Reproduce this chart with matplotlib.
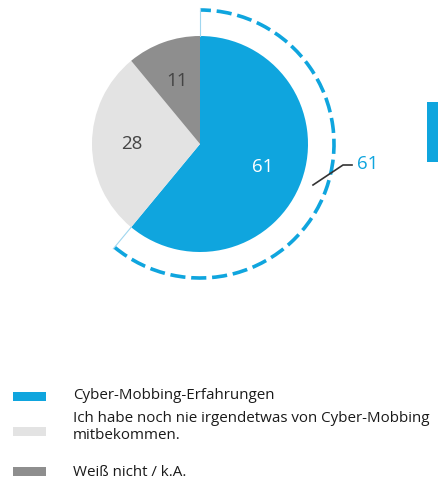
import numpy as np
import matplotlib
matplotlib.use("Agg")
import matplotlib.pyplot as plt
from matplotlib.patches import Arc, Rectangle

# data
categories = ["Cyber-Mobbing-Erfahrungen",
              "Ich habe noch nie irgendetwas von Cyber-Mobbing\nmitbekommen.",
              "Weiß nicht / k.A."]
values = [61, 28, 11]
colors = ["#0fa5de", "#e3e3e3", "#8e8e8e"]
label_colors = ["white", "#444444", "#444444"]
highlight_value = 61

W, H = 439, 482
fig = plt.figure(figsize=(W / 100, H / 100), dpi=100)
ax = fig.add_axes([0, 0, 1, 1])

cx, cy, r = 200, H - 144, 108
wedges, _ = ax.pie(values, colors=colors, startangle=90, counterclock=False,
                   center=(cx, cy), radius=r, frame=True)
ax.set_xlim(0, W)
ax.set_ylim(0, H)
ax.set_aspect("equal")
ax.axis("off")

# value labels inside the slices
label_r = [0.62, 0.63, 0.62]
for w, v, lc, lr in zip(wedges, values, label_colors, label_r):
    mid = np.deg2rad((w.theta1 + w.theta2) / 2)
    ax.text(cx + lr * r * np.cos(mid), cy + lr * r * np.sin(mid), str(v),
            ha="center", va="center", fontsize=13.5, color=lc,
            family="Open Sans")

# dashed highlight arc around the first slice
ra = 134
t1, t2 = wedges[0].theta1, wedges[0].theta2
ax.add_patch(Arc((cx, cy), 2 * ra, 2 * ra, theta1=t1, theta2=t2,
                 color=colors[0], lw=2.6, linestyle=(0, (4.2, 1.6))))
for t in (t1, t2):
    a = np.deg2rad(t)
    ax.plot([cx + r * np.cos(a), cx + (ra + 2) * np.cos(a)],
            [cy + r * np.sin(a), cy + (ra + 2) * np.sin(a)],
            color="#9fd6ef", lw=0.8)

# leader line and outer label
ax.plot([313, 343, 352], [H - 185, H - 165, H - 165], color="#333333", lw=1.2)
ax.text(357, H - 164, str(highlight_value), ha="left", va="center",
        fontsize=13.5, color=colors[0], family="Open Sans")

# cut-off bar at the right edge
ax.add_patch(Rectangle((427, H - 162), 20, 60, color=colors[0], lw=0))

# legend
patch_y = [397, 432, 472]
text_y = [396, 427, 473]
for c, lab, py, ty in zip(colors, categories, patch_y, text_y):
    ax.add_patch(Rectangle((13, H - py - 4), 33, 9, color=c, lw=0))
    ax.text(73, H - ty, lab, ha="left", va="center", fontsize=10.9,
            color="#1a1a1a", family="Open Sans", linespacing=1.25)

fig.savefig("out.png", dpi=100)
